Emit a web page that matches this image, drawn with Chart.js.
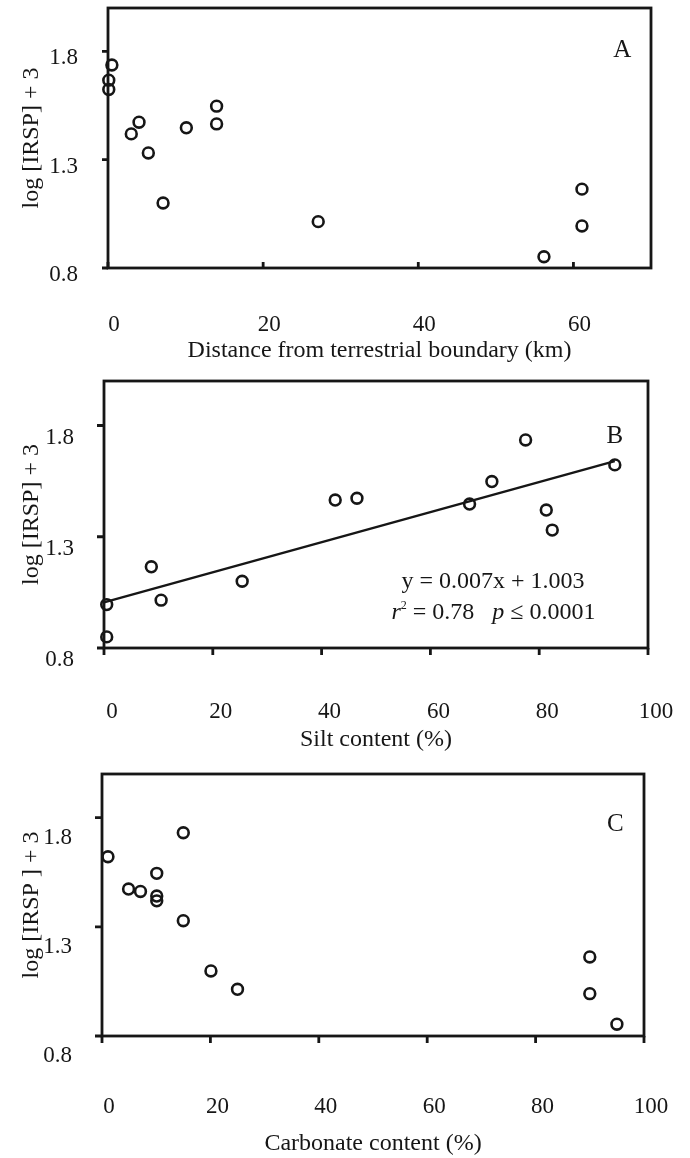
<!DOCTYPE html>
<html>
<head>
<meta charset="utf-8">
<script src="https://cdn.jsdelivr.net/npm/chart.js@4.4.1/dist/chart.umd.min.js"></script>
<style>
  html, body { margin: 0; padding: 0; background: #fff; }
  #page { position: relative; width: 690px; height: 1158px; }
  canvas { position: absolute; left: 0; }
</style>
</head>
<body>
<div id="page">
  <canvas id="chartA" width="690" height="365" style="top:0px"></canvas>
  <canvas id="chartB" width="690" height="395" style="top:365px"></canvas>
  <canvas id="chartC" width="690" height="398" style="top:760px"></canvas>
</div>
<script>
// shared axis
const yTicks = [0.8, 1.3, 1.8];

// panel A - distance from terrestrial boundary
const distanceKm = [0.5, 0.1, 0.1, 3.0, 4.0, 5.2, 7.1, 10.1, 14.0, 14.0, 27.1, 56.2, 61.1, 61.1];
const irspA = [1.737, 1.667, 1.624, 1.419, 1.473, 1.331, 1.10, 1.447, 1.547, 1.465, 1.014, 0.852, 1.164, 0.994];
const distanceTicks = [0, 20, 40, 60];

// panel B - silt content
const siltPct = [0.5, 0.5, 8.7, 10.5, 25.4, 42.5, 46.5, 67.2, 71.3, 77.5, 81.3, 82.4, 93.9];
const irspB = [0.85, 0.995, 1.165, 1.015, 1.10, 1.465, 1.473, 1.447, 1.548, 1.735, 1.42, 1.33, 1.623];
const fitX = [0, 93.9];
const fitY = [1.005, 1.64];

// panel C - carbonate content
const carbonatePct = [1.1, 15.0, 10.1, 4.9, 7.1, 10.1, 10.1, 15.0, 20.1, 25.0, 90.0, 90.0, 95.0];
const irspC = [1.621, 1.731, 1.545, 1.473, 1.462, 1.441, 1.419, 1.328, 1.098, 1.014, 1.162, 0.994, 0.854];
const pctTicks = [0, 20, 40, 60, 80, 100];

const ink = '#161616';
const serif = '"Liberation Serif", "Times New Roman", serif';
Chart.defaults.font.family = serif;
Chart.defaults.color = ink;

// box around the plot, tick marks, and text placed in data space
const framePlugin = {
  id: 'frame',
  afterDraw(chart, args, opts) {
    const { ctx, chartArea: a, scales: { x, y } } = chart;
    ctx.save();
    ctx.strokeStyle = ink;
    ctx.lineWidth = 2.8;
    ctx.strokeRect(a.left, a.top, a.right - a.left, a.bottom - a.top);
    ctx.beginPath();
    x.ticks.forEach(t => {
      const px = x.getPixelForValue(t.value);
      ctx.moveTo(px, a.bottom);
      ctx.lineTo(px, a.bottom + opts.xDir * opts.len);
    });
    y.ticks.forEach(t => {
      const py = y.getPixelForValue(t.value);
      ctx.moveTo(a.left, py);
      ctx.lineTo(a.left - opts.len, py);
    });
    ctx.stroke();

    ctx.fillStyle = ink;
    ctx.textBaseline = 'middle';
    ctx.textAlign = 'left';
    (opts.notes || []).forEach(n => {
      const runs = n.runs.map(r => {
        const size = r.sup ? 12 : n.size;
        const font = (r.italic ? 'italic ' : '') + size + 'px ' + serif;
        ctx.font = font;
        return { ...r, font, w: ctx.measureText(r.t).width };
      });
      const total = runs.reduce((s, r) => s + r.w, 0);
      let cx = x.getPixelForValue(n.x) - total / 2;
      const cy = y.getPixelForValue(n.y);
      runs.forEach(r => {
        ctx.font = r.font;
        ctx.fillText(r.t, cx, r.sup ? cy - 7 : cy);
        cx += r.w;
      });
    });
    ctx.restore();
  }
};

function panel(id, o) {
  const datasets = [{
    data: o.xs.map((v, i) => ({ x: v, y: o.ys[i] })),
    pointRadius: 5.4,
    pointBorderWidth: 2.6,
    pointBorderColor: ink,
    pointBackgroundColor: 'rgba(0,0,0,0)',
    showLine: false,
    clip: false
  }];
  if (o.fit) {
    datasets.unshift({
      data: o.fit[0].map((v, i) => ({ x: v, y: o.fit[1][i] })),
      showLine: true,
      borderColor: ink,
      borderWidth: 2.4,
      pointRadius: 0,
      clip: false
    });
  }

  return new Chart(document.getElementById(id), {
    type: 'scatter',
    data: { datasets },
    plugins: [framePlugin],
    options: {
      responsive: false,
      animation: false,
      devicePixelRatio: 1,
      layout: { padding: { top: o.top, right: o.right, left: 0, bottom: 0 } },
      plugins: {
        legend: { display: false },
        tooltip: { enabled: false },
        frame: { xDir: o.xDir, len: o.tickLen, notes: o.notes }
      },
      scales: {
        x: {
          type: 'linear', min: 0, max: o.xMax,
          grid: { display: false }, border: { display: false },
          afterBuildTicks: s => { s.ticks = o.xTicks.map(v => ({ value: v })); },
          afterFit: s => { s.height = o.xh; s.paddingLeft = 0; s.paddingRight = 0; },
          ticks: {
            autoSkip: false, maxRotation: 0, padding: o.xPad, labelOffset: o.xOff,
            color: ink, font: { size: 23 }, callback: v => String(v)
          },
          title: {
            display: true, text: o.xTitle, color: ink, font: { size: 24 },
            padding: { top: 0, bottom: o.xTitlePad }
          }
        },
        y: {
          type: 'linear', min: 0.8, max: 2.0,
          grid: { display: false }, border: { display: false },
          afterBuildTicks: s => { s.ticks = yTicks.map(v => ({ value: v })); },
          afterFit: s => { s.width = o.left; s.paddingTop = 0; s.paddingBottom = 0; },
          ticks: {
            autoSkip: false, padding: 22, labelOffset: o.yOff,
            color: ink, font: { size: 23 }, callback: v => v.toFixed(1)
          },
          title: {
            display: true, text: o.yTitle, color: ink, font: { size: 24 },
            padding: { top: 17, bottom: 0 }
          }
        }
      }
    }
  });
}

panel('chartA', {
  xs: distanceKm, ys: irspA, xMax: 70, xTicks: distanceTicks,
  top: 8, right: 39, left: 108, xh: 97,
  xPad: 35, xOff: 6, yOff: 7, xTitlePad: 0, xDir: -1, tickLen: 6,
  xTitle: 'Distance from terrestrial boundary (km)',
  yTitle: 'log [IRSP] + 3',
  notes: [{ x: 66.3, y: 1.806, size: 25, runs: [{ t: 'A' }] }]
});

panel('chartB', {
  xs: siltPct, ys: irspB, xMax: 100, xTicks: pctTicks, fit: [fitX, fitY],
  top: 16, right: 42, left: 104, xh: 112,
  xPad: 42, xOff: 8, yOff: 12, xTitlePad: 6, xDir: 1, tickLen: 7,
  xTitle: 'Silt content (%)',
  yTitle: 'log [IRSP] + 3',
  notes: [
    { x: 93.9, y: 1.75, size: 25, runs: [{ t: 'B' }] },
    { x: 71.5, y: 1.098, size: 24, runs: [{ t: 'y = 0.007x + 1.003' }] },
    { x: 71.6, y: 0.959, size: 24, runs: [
      { t: 'r', italic: true }, { t: '2', sup: true }, { t: ' = 0.78   ' },
      { t: 'p', italic: true }, { t: ' \u2264 0.0001' }
    ] }
  ]
});

panel('chartC', {
  xs: carbonatePct, ys: irspC, xMax: 100, xTicks: pctTicks,
  top: 14, right: 46, left: 102, xh: 122,
  xPad: 49, xOff: 7, yOff: 20, xTitlePad: 0, xDir: 1, tickLen: 7,
  xTitle: 'Carbonate content (%)',
  yTitle: 'log [IRSP ] + 3',
  notes: [{ x: 94.7, y: 1.767, size: 25, runs: [{ t: 'C' }] }]
});
</script>
</body>
</html>
